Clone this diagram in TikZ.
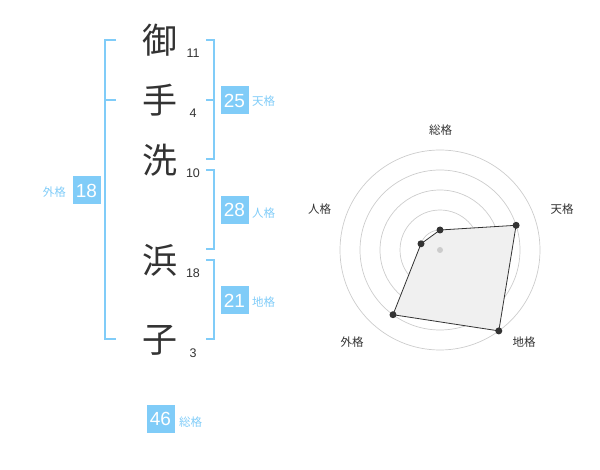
\documentclass[tikz,border=0pt]{standalone}
\usepackage{fontspec}
\setmainfont{Liberation Sans}
\newfontfamily\jp{Noto Sans CJK JP}
\definecolor{kblue}{HTML}{80CCF8}
\definecolor{kdark}{HTML}{333333}
\definecolor{kgrid}{HTML}{CCCCCC}
\definecolor{kfill}{HTML}{F0F0F0}
\tikzset{
  kanji/.style={inner sep=0pt, text=kdark, font=\jp\fontsize{35}{35}\selectfont},
  stroke/.style={inner sep=0pt, text=kdark, font=\fontsize{12.5}{12.5}\selectfont},
  kbox/.style={fill=kblue, text=white, minimum width=28pt, minimum height=28pt, inner sep=0pt, font=\fontsize{19}{19}\selectfont},
  klabel/.style={inner sep=0pt, text=kblue, font=\jp\fontsize{11.5}{11.5}\selectfont},
  bracket/.style={draw=kblue, line width=2pt},
  rlabel/.style={inner sep=0pt, text=kdark, font=\jp\fontsize{11.5}{11.5}\selectfont},
  ring/.style={draw=kgrid, line width=0.7pt},
  dot/.style={circle, fill=kdark, inner sep=0pt, minimum size=7pt},
}
\begin{document}
\begin{tikzpicture}[x=1pt,y=-1pt]
\useasboundingbox (0,0) rectangle (600,470);
% kanji
\node[kanji] (k1) at (160,40) {御};
\node[kanji] (k2) at (160,100) {手};
\node[kanji] (k3) at (160,160) {洗};
\node[kanji] (k4) at (160,260) {浜};
\node[kanji] (k5) at (160,340) {子};
% stroke counts
\node[stroke] (s1) at (193,53) {11};
\node[stroke] (s2) at (193,113) {4};
\node[stroke] (s3) at (193,173) {10};
\node[stroke] (s4) at (193,273) {18};
\node[stroke] (s5) at (193,353) {3};
% brackets
\draw[bracket] (116,40) -- (105,40) -- (105,339) -- (116,339);
\draw[bracket] (105,100) -- (116,100);
\draw[bracket] (206,40) -- (214,40) -- (214,159) -- (206,159);
\draw[bracket] (206,100) -- (214,100);
\draw[bracket] (206,170) -- (214,170) -- (214,249) -- (206,249);
\draw[bracket] (206,260) -- (214,260) -- (214,339) -- (206,339);
% boxes
\node[kbox] (b1) at (234.5,100.5) {25};
\node[klabel, anchor=west] (l1) at (252,101.5) {天格};
\node[kbox] (b2) at (234.5,210) {28};
\node[klabel, anchor=west] (l2) at (252,213) {人格};
\node[kbox] (b3) at (234.5,300.5) {21};
\node[klabel, anchor=west] (l3) at (252,302.5) {地格};
\node[kbox] (b4) at (86.5,190.5) {18};
\node[klabel, anchor=east] (l4) at (66,192) {外格};
\node[kbox] (b5) at (160.5,419) {46};
\node[klabel, anchor=west] (l5) at (179,422) {総格};
% radar
\coordinate (c) at (440,250);
\foreach \r in {20,40,60,80,100} \draw[ring] (c) circle (\r pt);
\coordinate (p1) at (440,230);
\coordinate (p2) at (516.1,225.3);
\coordinate (p3) at (498.8,330.9);
\coordinate (p4) at (393.0,314.7);
\coordinate (p5) at (421.0,243.8);
\draw[fill=kfill, draw=kdark, line width=0.8pt] (p1) -- (p2) -- (p3) -- (p4) -- (p5) -- cycle;
\node[circle, fill=kgrid, inner sep=0pt, minimum size=6pt] (cd) at (c) {};
\foreach \i in {1,...,5} \node[dot] (d\i) at (p\i) {};
\node[rlabel] (r1) at (440.7,130.5) {総格};
\node[rlabel] (r2) at (562,209) {天格};
\node[rlabel] (r3) at (524,342) {地格};
\node[rlabel] (r4) at (352,342) {外格};
\node[rlabel] (r5) at (319.5,209) {人格};
\end{tikzpicture}
\end{document}
